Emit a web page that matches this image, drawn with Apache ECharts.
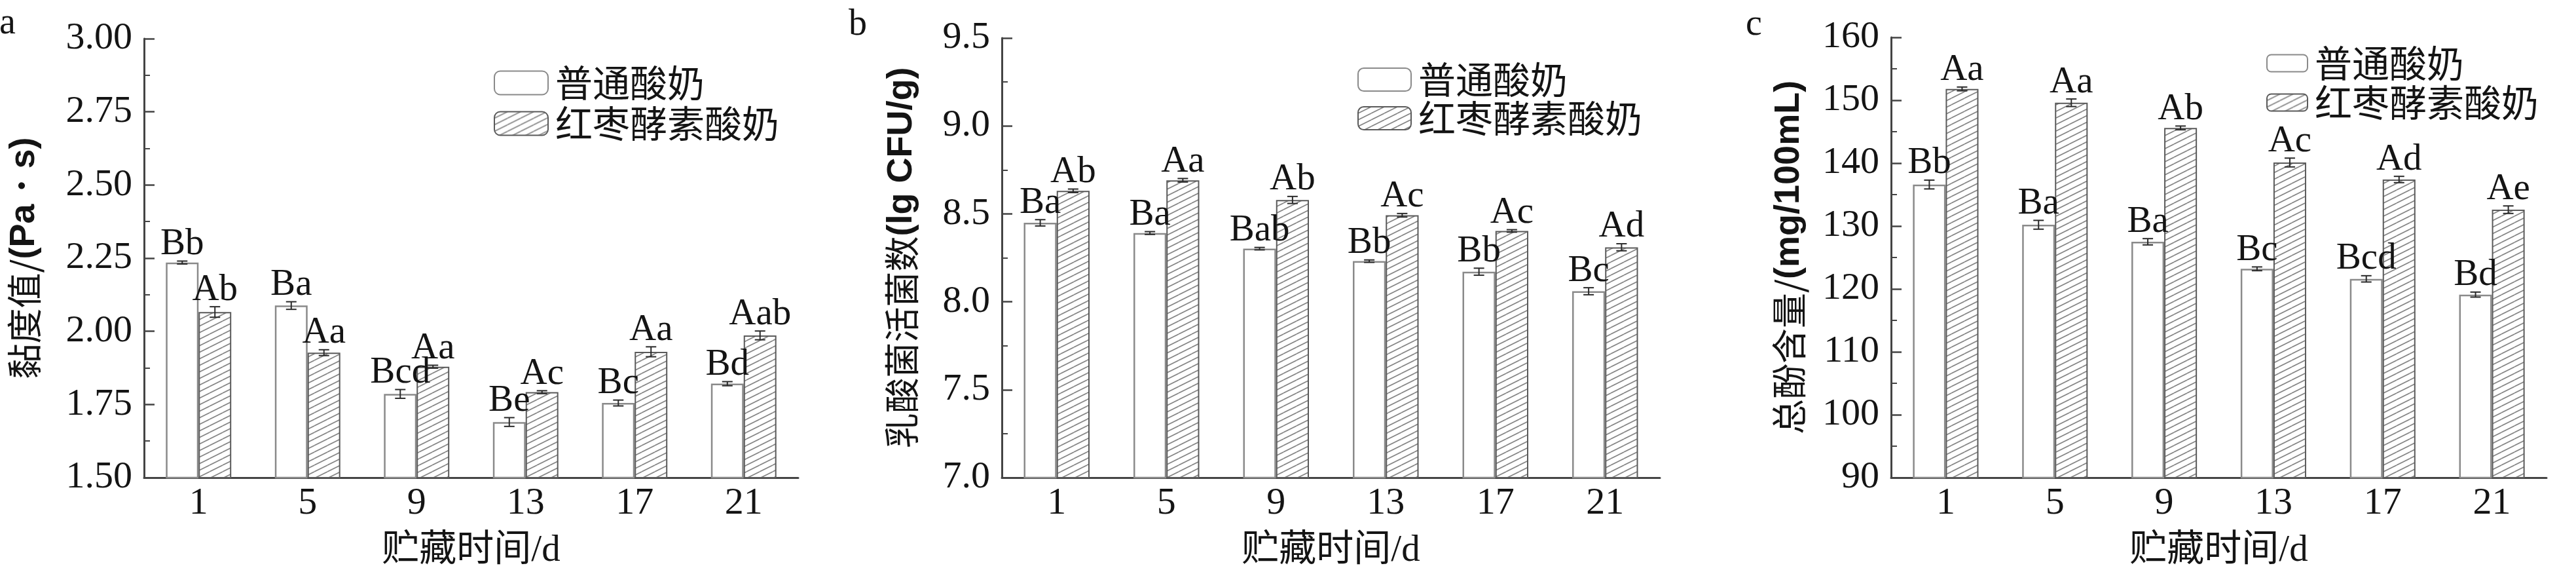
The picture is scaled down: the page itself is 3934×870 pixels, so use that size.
<!DOCTYPE html>
<html>
<head>
<meta charset="utf-8">
<script src="https://cdn.jsdelivr.net/npm/echarts@6/dist/echarts.min.js"></script>
<style>
html,body{margin:0;padding:0;background:#fff;}
#chart{width:3934px;height:870px;}
</style>
</head>
<body>
<div id="chart"></div>
<script>
// ---------- data ----------
const categories = ['1', '5', '9', '13', '17', '21'];
const seriesNames = ['普通酸奶', '红枣酵素酸奶'];

// a: viscosity
const viscPlain = [2.235, 2.088, 1.786, 1.690, 1.755, 1.821];
const viscPlainErr = [0.005, 0.013, 0.015, 0.015, 0.010, 0.007];
const viscJujube = [2.066, 1.927, 1.879, 1.792, 1.930, 1.986];
const viscJujubeErr = [0.018, 0.010, 0.005, 0.005, 0.017, 0.015];
const viscPlainLabels = ['Bb', 'Ba', 'Bcd', 'Be', 'Bc', 'Bd'];
const viscJujubeLabels = ['Ab', 'Aa', 'Aa', 'Ac', 'Aa', 'Aab'];

// b: lactic acid bacteria count
const labPlain = [8.449, 8.391, 8.302, 8.231, 8.171, 8.060];
const labPlainErr = [0.018, 0.008, 0.007, 0.007, 0.020, 0.020];
const labJujube = [8.631, 8.691, 8.579, 8.492, 8.403, 8.310];
const labJujubeErr = [0.010, 0.010, 0.020, 0.010, 0.007, 0.020];
const labPlainLabels = ['Ba', 'Ba', 'Bab', 'Bb', 'Bb', 'Bc'];
const labJujubeLabels = ['Ab', 'Aa', 'Ab', 'Ac', 'Ac', 'Ad'];

// c: total phenol content
const phenolPlain = [136.6, 130.2, 127.5, 123.2, 121.6, 119.1];
const phenolPlainErr = [0.7, 0.7, 0.5, 0.3, 0.5, 0.4];
const phenolJujube = [151.8, 149.6, 145.6, 140.1, 137.4, 132.6];
const phenolJujubeErr = [0.3, 0.6, 0.3, 0.7, 0.5, 0.6];
const phenolPlainLabels = ['Bb', 'Ba', 'Ba', 'Bc', 'Bcd', 'Bd'];
const phenolJujubeLabels = ['Aa', 'Aa', 'Ab', 'Ac', 'Ad', 'Ae'];

// axis ticks
const yTicksA = {min: 1.5, max: 3.0, interval: 0.25, decimals: 2};
const yTicksB = {min: 7.0, max: 9.5, interval: 0.5, decimals: 1};
const yTicksC = {min: 90, max: 160, interval: 10, decimals: 0};

const xName = '贮藏时间/d';
const yNames = [
  '{c|黏度值/}{l|(Pa・s)}',
  '{c|乳酸菌活菌数}{l|(lg CFU/g)}',
  '{c|总酚含量/}{l|(mg/100mL)}'
];
const panelLetters = ['a', 'b', 'c'];

// ---------- styles ----------
const SERIF = '"Liberation Serif", "Times New Roman", serif';
const CJK = '"Noto Sans CJK SC", sans-serif';
const TXT = '#141414';
const AXIS = '#444';

// hatch pattern
const pc = document.createElement('canvas');
pc.width = 20; pc.height = 10;
const g = pc.getContext('2d');
g.fillStyle = '#fff'; g.fillRect(0, 0, 20, 10);
g.strokeStyle = '#858585'; g.lineWidth = 1.7;
for (let k = -1; k <= 1; k++) {
  g.beginPath(); g.moveTo(0, 10 + k * 10); g.lineTo(20, k * 10); g.stroke();
}
const hatch = {image: pc, repeat: 'repeat'};

const grids = [
  {left: 220, width: 999, top: 59, height: 670},
  {left: 1530, width: 1005, top: 58, height: 671},
  {left: 2888, width: 1001, top: 57, height: 672}
];
const yTicks = [yTicksA, yTicksB, yTicksC];
const nameGaps = [156, 126, 129];

const panels = [
  {plain: viscPlain, plainErr: viscPlainErr, jujube: viscJujube, jujubeErr: viscJujubeErr, pl: viscPlainLabels, jl: viscJujubeLabels},
  {plain: labPlain, plainErr: labPlainErr, jujube: labJujube, jujubeErr: labJujubeErr, pl: labPlainLabels, jl: labJujubeLabels},
  {plain: phenolPlain, plainErr: phenolPlainErr, jujube: phenolJujube, jujubeErr: phenolJujubeErr, pl: phenolPlainLabels, jl: phenolJujubeLabels}
];

function errRender(sign, labels) {
  return function (params, api) {
    const i = api.value(0), v = api.value(1), e = api.value(2);
    const band = api.size([1, 0])[0];
    const cx = api.coord([i, v])[0] + sign * band * 0.15;
    const yt = api.coord([i, v + e])[1];
    const yb = api.coord([i, v - e])[1];
    const cap = 8;
    const ls = {stroke: '#2a2a2a', lineWidth: 2};
    return {
      type: 'group',
      children: [
        {type: 'line', shape: {x1: cx, y1: yt, x2: cx, y2: yb}, style: ls},
        {type: 'line', shape: {x1: cx - cap, y1: yt, x2: cx + cap, y2: yt}, style: ls},
        {type: 'line', shape: {x1: cx - cap, y1: yb, x2: cx + cap, y2: yb}, style: ls},
        {type: 'text', style: {x: cx, y: yt + 3, text: labels[params.dataIndex], align: 'center', verticalAlign: 'bottom',
          fontSize: 57, fontFamily: SERIF, fill: TXT}}
      ]
    };
  };
}

const option = {
  backgroundColor: '#fff',
  animation: false,
  title: panelLetters.map((t, k) => ({
    text: t, padding: 0,
    left: [-1, 1296, 2666][k], top: [8, 10, 10][k],
    textStyle: {fontSize: 56, fontFamily: SERIF, fontWeight: 'normal', color: TXT}
  })),
  legend: [
    {left: 754, top: 98, itemWidth: 82, itemHeight: 36, itemGap: 5},
    {left: 2073, top: 93, itemWidth: 81, itemHeight: 35, itemGap: 2},
    {left: 3461, top: 68, itemWidth: 62, itemHeight: 26, itemGap: 3}
  ].map(l => Object.assign({
    orient: 'vertical', padding: 0, data: seriesNames, selectedMode: false,
    textStyle: {fontSize: 57, fontFamily: CJK, color: TXT, padding: [0, 0, 0, 6]}
  }, l)),
  grid: grids.map(gr => Object.assign({containLabel: false, outerBoundsMode: 'none'}, gr)),
  xAxis: grids.map((gr, k) => ({
    type: 'category', gridIndex: k, data: categories,
    axisLine: {lineStyle: {color: AXIS, width: 3}},
    axisTick: {show: false},
    axisLabel: {fontSize: 58, fontFamily: SERIF, color: TXT, margin: 11},
    splitLine: {show: false},
    name: xName, nameLocation: 'middle', nameGap: 84,
    nameTextStyle: {fontSize: 57, fontFamily: SERIF + ', ' + CJK, color: TXT}
  })),
  yAxis: yTicks.map((t, k) => ({
    type: 'value', gridIndex: k, min: t.min, max: t.max, interval: t.interval,
    axisLine: {show: true, lineStyle: {color: AXIS, width: 3}},
    axisTick: {show: true, inside: true, length: 16, lineStyle: {color: AXIS, width: 2.5}},
    minorTick: {show: true, splitNumber: 2, length: 9, lineStyle: {color: AXIS, width: 2}},
    splitLine: {show: false},
    axisLabel: {fontSize: 58, fontFamily: SERIF, color: TXT, margin: 18,
      formatter: v => v.toFixed(t.decimals)},
    name: yNames[k], nameLocation: 'middle', nameGap: nameGaps[k], nameRotate: 90,
    nameTextStyle: {color: TXT, rich: {
      c: {fontSize: 54, fontFamily: CJK, color: TXT},
      l: {fontSize: 54, fontFamily: '"Liberation Sans", Arial, sans-serif', fontWeight: 'bold', color: TXT}
    }}
  })),
  series: []
};

panels.forEach((p, k) => {
  option.series.push({
    name: seriesNames[0], type: 'bar', xAxisIndex: k, yAxisIndex: k,
    data: p.plain, barWidth: '30%', barGap: '0%',
    itemStyle: {color: '#fff', borderColor: '#8a8a8a', borderWidth: 2.5}
  });
  option.series.push({
    name: seriesNames[1], type: 'bar', xAxisIndex: k, yAxisIndex: k,
    data: p.jujube, barWidth: '30%', barGap: '0%',
    itemStyle: {color: hatch, borderColor: '#5a5a5a', borderWidth: 2}
  });
  option.series.push({
    type: 'custom', xAxisIndex: k, yAxisIndex: k, z: 5, silent: true,
    renderItem: errRender(-1, p.pl),
    data: p.plain.map((v, i) => [i, v, p.plainErr[i]])
  });
  option.series.push({
    type: 'custom', xAxisIndex: k, yAxisIndex: k, z: 5, silent: true,
    renderItem: errRender(1, p.jl),
    data: p.jujube.map((v, i) => [i, v, p.jujubeErr[i]])
  });
});

const chart = echarts.init(document.getElementById('chart'), null, {renderer: 'canvas'});
chart.setOption(option);
</script>
</body>
</html>
